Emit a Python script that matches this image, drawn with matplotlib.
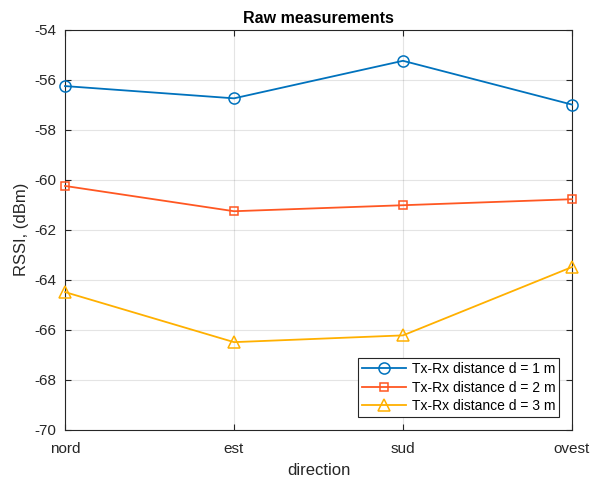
import numpy as np
import matplotlib.pyplot as plt

plt.rcParams['font.family'] = ['Liberation Sans', 'DejaVu Sans']
plt.rcParams['axes.unicode_minus'] = False

directions = ['nord', 'est', 'sud', 'ovest']
rssi_1m = [-56.26, -56.75, -55.25, -57.0]
rssi_2m = [-60.25, -61.26, -61.02, -60.78]
rssi_3m = [-64.49, -66.49, -66.22, -63.49]
labels = ['Tx-Rx distance d = 1 m', 'Tx-Rx distance d = 2 m', 'Tx-Rx distance d = 3 m']

colors = ['#0072BD', '#FF5722', '#FFB000']
markers = ['o', 's', '^']
msizes = [8, 6, 8]
axcol = (0.15, 0.15, 0.15)

fig = plt.figure(figsize=(5.92, 4.79), dpi=100)
ax = fig.add_axes([0.1098, 0.1023, 0.8564, 0.8361])

x = np.arange(len(directions))
for ys, c, m, ms, lab in zip([rssi_1m, rssi_2m, rssi_3m], colors, markers, msizes, labels):
    ax.plot(x, ys, color=c, marker=m, markersize=ms, markerfacecolor='none',
            markeredgewidth=1.1, linewidth=1.3, label=lab, clip_on=False, zorder=3)

ax.set_xlim(0, 3)
ax.set_ylim(-70, -54)
ax.set_xticks(x)
ax.set_xticklabels(directions)
ax.set_yticks(np.arange(-70, -53, 2))
ax.grid(True, color=(0.15, 0.15, 0.15), alpha=0.12, linewidth=0.8)
ax.tick_params(direction='in', top=True, right=True, colors=axcol, labelsize=11,
               length=4, width=0.8)
ax.tick_params(axis='x', pad=9)
ax.tick_params(axis='y', pad=6)
for lbl in ax.get_xticklabels() + ax.get_yticklabels():
    lbl.set_color('#262626')
for s in ax.spines.values():
    s.set_color(axcol)
    s.set_linewidth(0.8)

ax.set_xlabel('direction', fontsize=12, color='#262626', labelpad=5)
ax.set_ylabel('RSSI, (dBm)', fontsize=12, color='#262626', labelpad=4)
ax.set_title('Raw measurements', fontsize=11.5, fontweight='bold', pad=5)

leg = ax.legend(loc='lower right', fontsize=10, fancybox=False, framealpha=1,
                edgecolor=axcol, borderpad=0.3, labelspacing=0.33,
                handlelength=3.2, handletextpad=0.4, borderaxespad=0.9)
leg.get_frame().set_linewidth(0.8)

fig.savefig('out.png', dpi=100)
